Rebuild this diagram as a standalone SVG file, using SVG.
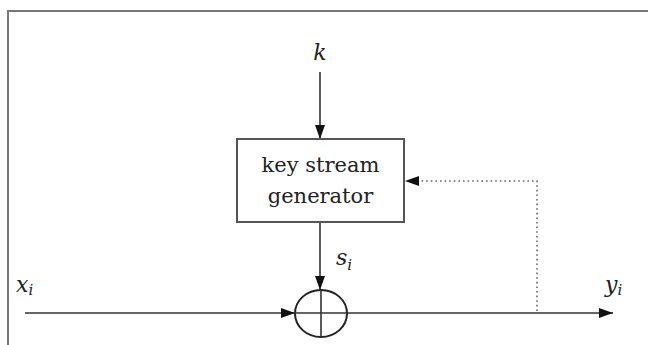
<svg xmlns="http://www.w3.org/2000/svg" width="648" height="345" viewBox="0 0 648 345">
<defs>
<marker id="ah" markerWidth="14" markerHeight="10" refX="14" refY="5" orient="auto" markerUnits="userSpaceOnUse">
<path d="M0,0 L14,5 L0,10 Z" fill="#111"/>
</marker>
<style>
.ln{stroke:#333;stroke-width:1.6;fill:none}
.dot{stroke:#666;stroke-width:1.6;fill:none;stroke-dasharray:1.6 3}
text{font-family:'DejaVu Serif',serif;fill:#222}
.lbl{font-size:21px}
.var{font-style:italic}
</style>
</defs>
<rect width="648" height="345" fill="#fff"/>
<path d="M8,345 L8,11 L648,11" fill="none" stroke="#777" stroke-width="2"/>
<g id="connectors">
<line class="ln" x1="320" y1="72" x2="320" y2="139" marker-end="url(#ah)"/>
<line class="ln" x1="320" y1="222" x2="320" y2="290" marker-end="url(#ah)"/>
<line class="ln" x1="25" y1="313" x2="295" y2="313" marker-end="url(#ah)"/>
<line class="ln" x1="347" y1="313" x2="613" y2="313" marker-end="url(#ah)"/>
<polyline class="dot" points="537,311 537,181 420,181"/>
<line x1="418" y1="181" x2="405" y2="181" stroke="none" marker-end="url(#ah)"/>
</g>
<g id="k"><text class="var" x="320" y="60" font-size="22" text-anchor="middle">k</text></g>
<g id="generator">
<rect x="237" y="139" width="167" height="83" fill="#fff" stroke="#555" stroke-width="2"/>
<text class="lbl" x="320.5" y="172" text-anchor="middle">key stream</text>
<text class="lbl" x="320.5" y="203" text-anchor="middle">generator</text>
</g>
<g id="xor">
<ellipse cx="321" cy="313.5" rx="26" ry="23.5" fill="none" stroke="#222" stroke-width="2"/>
<line class="ln" x1="321" y1="290" x2="321" y2="337"/>
<line class="ln" x1="295" y1="313" x2="347" y2="313"/>
</g>
<g id="si"><text class="var" x="336" y="265" font-size="22">s<tspan font-size="15" dy="5">i</tspan></text></g>
<g id="xi"><text class="var" x="16" y="292" font-size="22">x<tspan font-size="15" dy="3">i</tspan></text></g>
<g id="yi"><text class="var" x="605" y="292" font-size="22">y<tspan font-size="15" dy="3">i</tspan></text></g>
</svg>
